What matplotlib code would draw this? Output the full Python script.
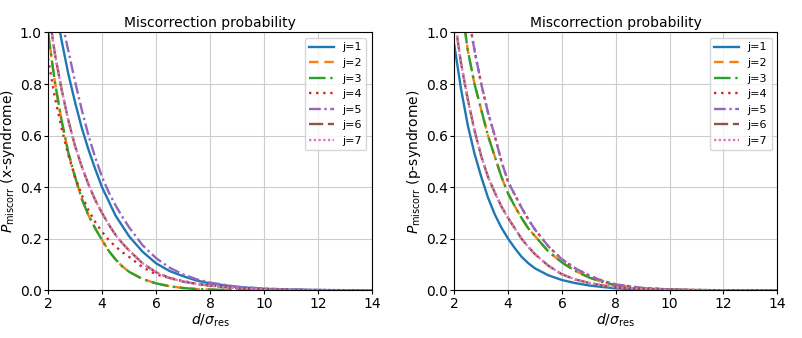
import numpy as np
import matplotlib
matplotlib.use("Agg")
import matplotlib.pyplot as plt

# sample points along d/sigma_res
d = [2, 2.25, 2.5, 2.75, 3, 3.25, 3.5, 3.75, 4, 4.25, 4.5, 4.75, 5,
     5.5, 6, 6.5, 7, 7.5, 8, 9, 10, 11, 12, 13, 14]

# x-syndrome (left panel)
x_j1 = [1.30, 1.12, 0.97, 0.84, 0.73, 0.63, 0.545, 0.47, 0.40, 0.345, 0.29, 0.25, 0.21,
        0.15, 0.105, 0.075, 0.055, 0.038, 0.027, 0.013, 0.006, 0.003, 0.0013, 0.0006, 0.0003]
x_j2 = [1.00, 0.81, 0.66, 0.535, 0.44, 0.355, 0.29, 0.24, 0.195, 0.153, 0.12, 0.093, 0.072,
        0.044, 0.027, 0.016, 0.009, 0.005, 0.003, 0.001, 0.0003, 0.0001, 0.0, 0.0, 0.0]
x_j3 = [1.00, 0.81, 0.66, 0.535, 0.44, 0.355, 0.29, 0.24, 0.195, 0.153, 0.12, 0.093, 0.072,
        0.044, 0.027, 0.016, 0.009, 0.005, 0.003, 0.001, 0.0003, 0.0001, 0.0, 0.0, 0.0]
x_j4 = [0.90, 0.75, 0.63, 0.525, 0.44, 0.37, 0.31, 0.265, 0.227, 0.195, 0.17, 0.148, 0.13,
        0.09, 0.062, 0.048, 0.036, 0.026, 0.019, 0.009, 0.004, 0.0017, 0.0007, 0.0003, 0.0001]
x_j5 = [1.40, 1.20, 1.05, 0.93, 0.81, 0.70, 0.60, 0.515, 0.44, 0.38, 0.33, 0.285, 0.245,
        0.175, 0.125, 0.088, 0.062, 0.043, 0.030, 0.014, 0.007, 0.003, 0.0014, 0.0006, 0.0003]
x_j6 = [1.10, 0.92, 0.78, 0.66, 0.56, 0.48, 0.41, 0.35, 0.30, 0.255, 0.215, 0.183, 0.155,
        0.105, 0.070, 0.048, 0.034, 0.025, 0.018, 0.008, 0.0035, 0.0015, 0.0006, 0.0002, 0.0001]
x_j7 = [1.10, 0.92, 0.78, 0.66, 0.56, 0.48, 0.41, 0.35, 0.30, 0.255, 0.215, 0.183, 0.155,
        0.105, 0.070, 0.048, 0.034, 0.025, 0.018, 0.008, 0.0035, 0.0015, 0.0006, 0.0002, 0.0001]

# p-syndrome (right panel)
p_j1 = [0.95, 0.78, 0.64, 0.53, 0.44, 0.36, 0.295, 0.243, 0.20, 0.163, 0.13, 0.105, 0.085,
        0.058, 0.040, 0.028, 0.019, 0.013, 0.008, 0.003, 0.001, 0.0003, 0.0001, 0.0, 0.0]
p_j2 = [1.45, 1.12, 0.93, 0.80, 0.70, 0.60, 0.52, 0.44, 0.375, 0.325, 0.28, 0.24, 0.21,
        0.15, 0.108, 0.075, 0.050, 0.032, 0.020, 0.008, 0.003, 0.001, 0.0004, 0.0001, 0.0]
p_j3 = [1.45, 1.12, 0.93, 0.80, 0.70, 0.60, 0.52, 0.44, 0.375, 0.325, 0.28, 0.24, 0.21,
        0.15, 0.108, 0.075, 0.050, 0.032, 0.020, 0.008, 0.003, 0.001, 0.0004, 0.0001, 0.0]
p_j4 = [1.75, 1.35, 1.08, 0.93, 0.80, 0.69, 0.60, 0.50, 0.42, 0.37, 0.32, 0.275, 0.235,
        0.17, 0.12, 0.085, 0.058, 0.037, 0.023, 0.009, 0.0035, 0.0012, 0.0004, 0.0001, 0.0]
p_j5 = [1.75, 1.35, 1.08, 0.93, 0.80, 0.69, 0.60, 0.50, 0.42, 0.37, 0.32, 0.275, 0.235,
        0.17, 0.12, 0.085, 0.058, 0.037, 0.023, 0.009, 0.0035, 0.0012, 0.0004, 0.0001, 0.0]
p_j6 = [1.06, 0.88, 0.74, 0.62, 0.52, 0.44, 0.38, 0.325, 0.28, 0.24, 0.20, 0.168, 0.14,
        0.095, 0.062, 0.042, 0.029, 0.019, 0.012, 0.005, 0.002, 0.0008, 0.0003, 0.0001, 0.0]
p_j7 = [1.06, 0.88, 0.74, 0.62, 0.52, 0.44, 0.38, 0.325, 0.28, 0.24, 0.20, 0.168, 0.14,
        0.095, 0.062, 0.042, 0.029, 0.019, 0.012, 0.005, 0.002, 0.0008, 0.0003, 0.0001, 0.0]

labels = ["j=1", "j=2", "j=3", "j=4", "j=5", "j=6", "j=7"]
styles = ["-", (0, (4, 2.5)), (0, (7, 2, 1, 2)), (0, (1, 2)), (0, (5, 1.5, 1, 1.5)),
          (0, (6, 2)), (0, (1, 1))]

x_series = [x_j1, x_j2, x_j3, x_j4, x_j5, x_j6, x_j7]
p_series = [p_j1, p_j2, p_j3, p_j4, p_j5, p_j6, p_j7]

fig = plt.figure(figsize=(8.03, 3.38), dpi=100)
ax1 = fig.add_axes([0.0598, 0.141, 0.4035, 0.763])
ax2 = fig.add_axes([0.5658, 0.141, 0.4022, 0.763])

for ax, series, name in [(ax1, x_series, "x-syndrome"), (ax2, p_series, "p-syndrome")]:
    for i, vals in enumerate(series):
        ax.plot(d, vals, linestyle=styles[i], color="C%d" % i, lw=1.7, label=labels[i])
    ax.set_xlim(2, 14)
    ax.set_ylim(0, 1)
    ax.set_xticks(range(2, 15, 2))
    ax.set_yticks(np.arange(0, 1.01, 0.2))
    ax.grid(True, color="#cccccc", lw=0.8)
    ax.set_title("Miscorrection probability", fontsize=10, pad=4)
    ax.set_xlabel(r"$d/\sigma_{\rm res}$", fontsize=10, labelpad=1)
    ax.set_ylabel(r"$P_{\rm miscorr}$ (%s)" % name, fontsize=10)
    ax.yaxis.set_label_coords(-0.097, 0.5)
    ax.tick_params(labelsize=10, length=3, pad=1.5)
    ax.legend(loc="upper right", fontsize=8, handlelength=2.2)

fig.savefig("out.png", dpi=100)
